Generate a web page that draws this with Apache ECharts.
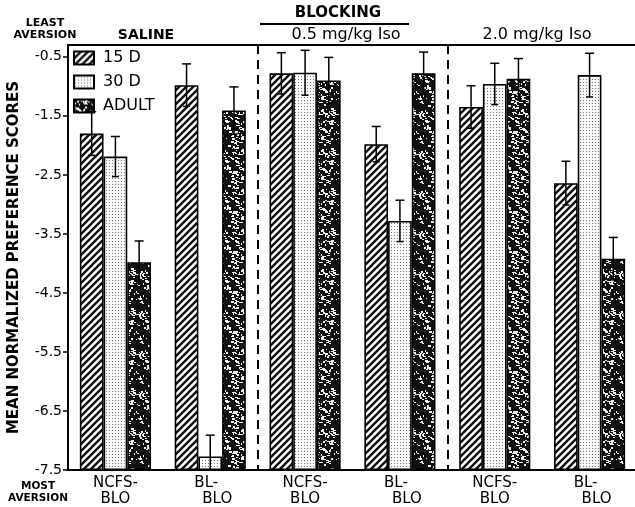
<!DOCTYPE html>
<html><head><meta charset="utf-8">
<script src="https://cdn.jsdelivr.net/npm/echarts@6/dist/echarts.min.js"></script>
<style>html,body{margin:0;padding:0;background:#fff}#c{width:635px;height:507px}</style>
</head><body><div id="c"></div>
<script>
// ---- data ----
const categories = ['NCFS-\nBLO', 'BL-\nBLO', 'NCFS-\nBLO', 'BL-\nBLO', 'NCFS-\nBLO', 'BL-\nBLO'];
const seriesNames = ['15 D', '30 D', 'ADULT'];
const d15 = [-1.80, -0.98, -0.78, -1.98, -1.35, -2.64];
const d30 = [-2.19, -7.27, -0.77, -3.28, -0.96, -0.81];
const dAdult = [-3.98, -1.41, -0.90, -0.78, -0.87, -3.92];
const e15 = [0.37, 0.36, 0.35, 0.30, 0.36, 0.37];
const e30 = [0.34, 0.36, 0.38, 0.35, 0.35, 0.37];
const eAdult = [0.36, 0.40, 0.39, 0.36, 0.34, 0.36];
const yTicks = [-7.5, -6.5, -5.5, -4.5, -3.5, -2.5, -1.5, -0.5];
const Y_MIN = -7.5, Y_MAX = -0.3;

// ---- fill patterns ----
function hatchPattern() {
  const s = 7, c = document.createElement('canvas'); c.width = c.height = s;
  const g = c.getContext('2d');
  g.fillStyle = '#fff'; g.fillRect(0, 0, s, s);
  g.strokeStyle = '#111'; g.lineWidth = 2.4; g.lineCap = 'square';
  g.beginPath();
  g.moveTo(-1, s + 1); g.lineTo(s + 1, -1);
  g.moveTo(-s - 1, s + 1); g.lineTo(1, -1);
  g.moveTo(-1, 2 * s + 1); g.lineTo(2 * s + 1, -1);
  g.stroke();
  return c;
}
function dotPattern() {
  const c = document.createElement('canvas'); c.width = 3; c.height = 3;
  const g = c.getContext('2d');
  g.fillStyle = '#fafafa'; g.fillRect(0, 0, 3, 3);
  g.fillStyle = '#777'; g.fillRect(1, 1, 1, 1);
  return c;
}
function mottlePattern() {
  const s = 40, c = document.createElement('canvas'); c.width = c.height = s;
  const g = c.getContext('2d');
  g.fillStyle = '#111'; g.fillRect(0, 0, s, s);
  g.fillStyle = '#eeeeee';
  let seed = 98765;
  const nxt = () => { seed = (seed * 1103515245 + 12345) % 2147483648; return seed / 2147483648; };
  for (let i = 0; i < 125; i++) {
    const x = Math.floor(nxt() * s), y = Math.floor(nxt() * s);
    const w = 1 + Math.floor(nxt() * 3), h = 1 + Math.floor(nxt() * 2);
    g.fillRect(x, y, w, h);
    if (nxt() < 0.4) g.fillRect(x + w, y + h, 2, 1);
  }
  return c;
}
const fills = [
  { image: hatchPattern(), repeat: 'repeat' },
  { image: dotPattern(), repeat: 'repeat' },
  { image: mottlePattern(), repeat: 'repeat' }
];

const values = [d15, d30, dAdult];
const errors = [e15, e30, eAdult];
const FONT = 'DejaVu Sans';

const barSeries = values.map((vals, k) => ({
  name: seriesNames[k],
  type: 'bar',
  data: vals,
  barWidth: '25%',
  barGap: '0%',
  itemStyle: { color: fills[k], borderColor: '#000', borderWidth: 1.6 },
  emphasis: { disabled: true },
  z: 2
}));

const errSeries = values.map((vals, k) => ({
  type: 'custom',
  name: 'err' + k,
  z: 5,
  silent: true,
  data: vals.map((v, i) => [i, v, errors[k][i]]),
  renderItem: function (params, api) {
    const ci = api.value(0), v = api.value(1), e = api.value(2);
    const band = api.size([1, 0])[0];
    const off = (k - 1) * band * 0.25;
    const lowVal = v - e;
    const clipped = lowVal < Y_MIN;
    const top = api.coord([ci, v + e]);
    const bot = api.coord([ci, clipped ? Y_MIN : lowVal]);
    const x = top[0] + off;
    const st = { stroke: '#000', lineWidth: 1.5 };
    const children = [
      { type: 'line', shape: { x1: x, y1: top[1], x2: x, y2: bot[1] }, style: st },
      { type: 'line', shape: { x1: x - 4.5, y1: top[1], x2: x + 4.5, y2: top[1] }, style: st }
    ];
    if (!clipped) children.push({ type: 'line', shape: { x1: x - 3.5, y1: bot[1], x2: x + 3.5, y2: bot[1] }, style: st });
    return { type: 'group', children: children };
  }
}));

const chart = echarts.init(document.getElementById('c'), null, { renderer: 'canvas' });
chart.setOption({
  animation: false,
  backgroundColor: '#fff',
  grid: { left: 68, width: 569, top: 45, height: 425, containLabel: false, outerBoundsMode: 'none' },
  legend: {
    data: seriesNames,
    orient: 'vertical',
    left: 73, top: 50,
    padding: 0,
    itemWidth: 20, itemHeight: 13, itemGap: 8,
    icon: 'rect',
    selectedMode: false,
    textStyle: { fontFamily: FONT, fontSize: 16, color: '#000', padding: [0, 0, 0, 4] }
  },
  xAxis: [{
    type: 'category',
    data: categories,
    position: 'bottom',
    axisLine: { lineStyle: { color: '#000', width: 2 } },
    axisTick: { show: false },
    splitLine: {
      show: true,
      interval: function (idx) { return idx === 2 || idx === 4; },
      lineStyle: { color: '#000', width: 2, type: [9, 6] }
    },
    axisLabel: {
      interval: 0,
      margin: 5,
      color: '#000',
      fontFamily: FONT,
      fontSize: 15,
      lineHeight: 16,
      formatter: function (v) {
        const p = v.split('\n');
        if (p[0] === 'BL-') return '{l|' + p[0] + '}\n{r|' + p[1] + '}';
        return '{n|' + p[0] + '}\n{n|' + p[1] + '}';
      },
      rich: {
        n: { fontFamily: FONT, fontSize: 15, lineHeight: 16, color: '#000' },
        l: { fontFamily: FONT, fontSize: 15, lineHeight: 16, color: '#000', padding: [0, 8, 0, 0] },
        r: { fontFamily: FONT, fontSize: 15, lineHeight: 16, color: '#000', padding: [0, 0, 0, 14] }
      }
    }
  }, {
    type: 'category',
    data: categories,
    position: 'top',
    axisLine: { lineStyle: { color: '#000', width: 2 } },
    axisTick: { show: false },
    axisLabel: { show: false }
  }],
  yAxis: {
    type: 'value',
    min: Y_MIN,
    max: Y_MAX,
    startValue: Y_MIN,
    name: 'MEAN NORMALIZED PREFERENCE SCORES',
    nameLocation: 'middle',
    nameGap: 46,
    nameTextStyle: { fontFamily: FONT, fontWeight: 'bold', fontSize: 15, color: '#000' },
    axisLine: { show: true, lineStyle: { color: '#000', width: 2 } },
    axisTick: { show: true, length: 5, lineStyle: { color: '#000', width: 1.5 }, customValues: yTicks },
    splitLine: { show: false },
    axisLabel: {
      customValues: yTicks,
      margin: 6,
      color: '#000',
      fontFamily: FONT,
      fontSize: 14,
      formatter: function (v) { return v.toFixed(1); }
    }
  },
  series: barSeries.concat(errSeries),
  graphic: [
    { type: 'text', x: 45, y: 23, style: { text: 'LEAST', fontFamily: FONT, fontWeight: 'bold', fontSize: 11, fill: '#000', align: 'center', verticalAlign: 'middle' } },
    { type: 'text', x: 45, y: 35, style: { text: 'AVERSION', fontFamily: FONT, fontWeight: 'bold', fontSize: 11, fill: '#000', align: 'center', verticalAlign: 'middle' } },
    { type: 'text', x: 146, y: 35, style: { text: 'SALINE', fontFamily: FONT, fontWeight: 'bold', fontSize: 14, fill: '#000', align: 'center', verticalAlign: 'middle' } },
    { type: 'text', x: 338, y: 13, style: { text: 'BLOCKING', fontFamily: FONT, fontWeight: 'bold', fontSize: 15, fill: '#000', align: 'center', verticalAlign: 'middle' } },
    { type: 'line', shape: { x1: 260, y1: 24, x2: 409, y2: 24 }, style: { stroke: '#000', lineWidth: 2 } },
    { type: 'text', x: 346, y: 35, style: { text: '0.5 mg/kg Iso', fontFamily: FONT, fontSize: 16, fill: '#000', align: 'center', verticalAlign: 'middle' } },
    { type: 'text', x: 537, y: 35, style: { text: '2.0 mg/kg Iso', fontFamily: FONT, fontSize: 16, fill: '#000', align: 'center', verticalAlign: 'middle' } },
    { type: 'text', x: 38, y: 486, style: { text: 'MOST', fontFamily: FONT, fontWeight: 'bold', fontSize: 10.5, fill: '#000', align: 'center', verticalAlign: 'middle' } },
    { type: 'text', x: 38, y: 498, style: { text: 'AVERSION', fontFamily: FONT, fontWeight: 'bold', fontSize: 10.5, fill: '#000', align: 'center', verticalAlign: 'middle' } }
  ]
});
</script></body></html>
